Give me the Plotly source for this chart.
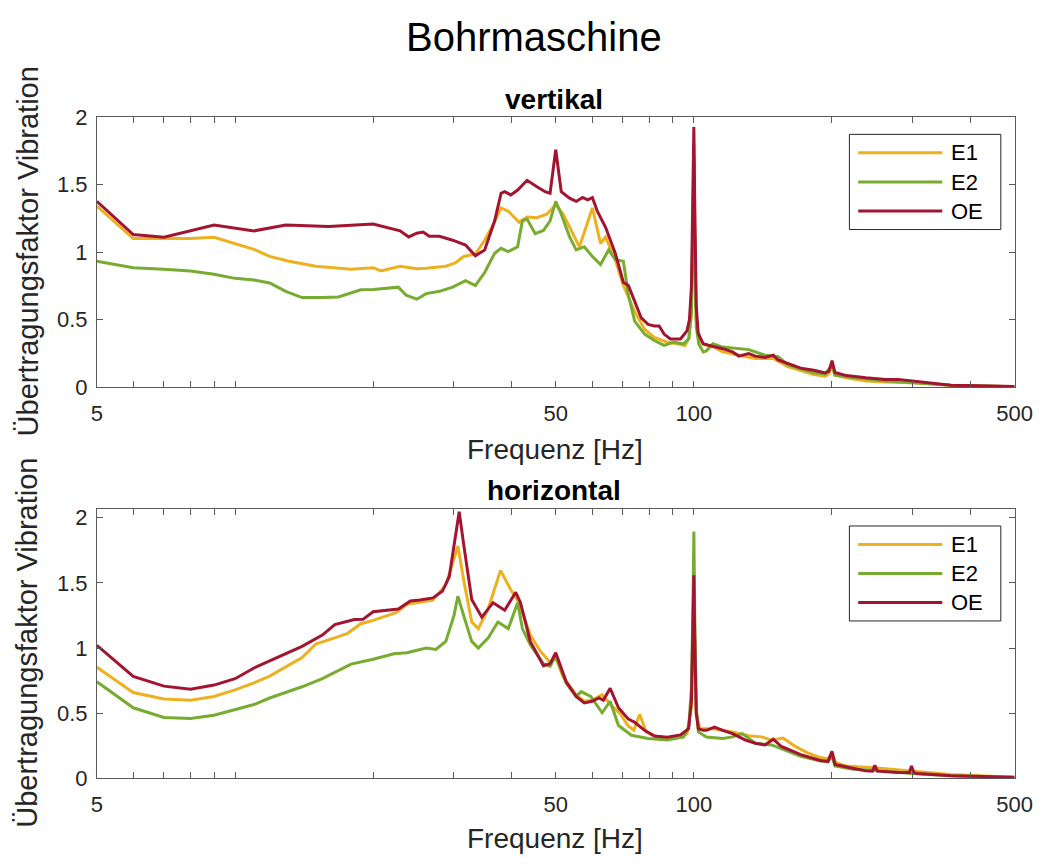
import plotly.graph_objects as go

# ---------------- data: vertikal ----------------
v_e1_f = [5, 6.0, 7.0, 8.0, 9.0, 10.0, 11.0, 11.9, 13.1, 15.0, 17.9, 20, 20.8, 22.9, 24.9, 26.1, 28.8, 30.2, 31.5,
          33.4, 35.0, 36.5, 38.0, 39.4, 41.6, 43.3, 45.5, 47.8, 50, 51.9, 54.5, 56.3, 58.2, 60.1, 62.6, 64.2, 67.4,
          70.2, 74.3, 78.1, 82.0, 87.5, 92, 95.7, 97.5, 98.8, 99.6, 100, 100.4, 101.2, 102.5, 104.8, 110, 115.6,
          125.4, 136.1, 148.9, 160.3, 182.6, 193.4, 197, 200, 203, 215, 237, 262, 298, 363, 500]
v_e1_y = [1.34, 1.10, 1.10, 1.10, 1.11, 1.064, 1.02, 0.968, 0.932, 0.896, 0.873, 0.885, 0.861, 0.896, 0.877, 0.88,
          0.896, 0.92, 0.968, 0.986, 1.088, 1.2, 1.327, 1.303, 1.22, 1.26, 1.255, 1.28, 1.35, 1.28, 1.136, 1.04,
          1.184, 1.327, 1.064, 1.112, 0.944, 0.753, 0.56, 0.43, 0.37, 0.334, 0.322, 0.31, 0.36, 0.55, 1.2, 1.80,
          1.2, 0.5, 0.36, 0.317, 0.30, 0.262, 0.238, 0.214, 0.214, 0.154, 0.095, 0.083, 0.1, 0.166, 0.09, 0.071,
          0.047, 0.039, 0.035, 0.016, 0.004]

v_e2_f = [5, 6.0, 7.0, 8.0, 9.0, 10.0, 11.0, 11.9, 12.9, 14.0, 15.5, 16.8, 18.8, 20, 22.7, 23.6, 24.9, 26.1, 27.9,
          29.8, 31.8, 33.4, 35.0, 36.8, 38.0, 39.4, 41.3, 42.3, 43.3, 45.1, 47.0, 48.6, 50, 51.4, 53.6, 55.4, 57.7,
          60.1, 62.6, 65.2, 67.4, 70.2, 72.0, 74.3, 78.1, 82.0, 86.1, 90.4, 95, 97.5, 98.8, 99.6, 100, 100.4, 101.2,
          102.5, 104.8, 106.5, 110, 115.6, 125.4, 131.7, 142.9, 152.6, 160.3, 182.6, 193.4, 200, 203, 215, 262,
          363, 500]
v_e2_y = [0.932, 0.885, 0.873, 0.861, 0.837, 0.806, 0.794, 0.772, 0.71, 0.664, 0.664, 0.669, 0.722, 0.724, 0.741,
          0.681, 0.652, 0.693, 0.71, 0.741, 0.789, 0.753, 0.849, 0.992, 1.028, 1.004, 1.04, 1.232, 1.244, 1.136,
          1.16, 1.232, 1.375, 1.28, 1.112, 1.016, 1.04, 0.968, 0.908, 1.016, 0.944, 0.932, 0.681, 0.49, 0.394,
          0.346, 0.31, 0.334, 0.322, 0.36, 0.55, 1.15, 1.70, 1.1, 0.45, 0.32, 0.262, 0.27, 0.322, 0.298, 0.286,
          0.279, 0.238, 0.226, 0.166, 0.107, 0.1, 0.166, 0.09, 0.078, 0.047, 0.016, 0.004]

v_oe_f = [5, 6.0, 7.0, 8.0, 9.0, 11.0, 12.9, 16, 20, 22.9, 23.9, 24.9, 25.7, 26.5, 27.9, 29.8, 31.8, 33.4, 35.0,
          36.8, 38.0, 38.7, 39.9, 41.3, 43.3, 45.5, 47.4, 48.6, 50, 51.4, 53.6, 55.4, 57.2, 58.7, 60.1, 61.6, 64.2,
          67.4, 70.2, 72.0, 74.3, 76.8, 79.5, 82.0, 84.0, 86.1, 88.9, 93.5, 96.6, 97.8, 98.8, 99.6, 100, 100.4,
          101.2, 102.2, 104.8, 110, 115.6, 121.4, 125.4, 131.7, 136.1, 142.9, 148.9, 152.6, 160.3, 171, 182.6,
          193.4, 197, 200, 203, 215, 237, 262, 279, 298, 329, 363, 414, 500]
v_oe_y = [1.375, 1.13, 1.11, 1.16, 1.20, 1.157, 1.2, 1.19, 1.208, 1.157, 1.112, 1.14, 1.148, 1.117, 1.117, 1.088,
          1.052, 0.973, 1.016, 1.232, 1.435, 1.447, 1.423, 1.459, 1.531, 1.483, 1.447, 1.435, 1.758, 1.447, 1.399,
          1.375, 1.404, 1.387, 1.404, 1.303, 1.184, 0.992, 0.777, 0.753, 0.633, 0.513, 0.466, 0.454, 0.454, 0.394,
          0.358, 0.358, 0.418, 0.5, 0.75, 1.4, 1.926, 1.4, 0.6, 0.40, 0.322, 0.303, 0.286, 0.262, 0.231, 0.25,
          0.231, 0.221, 0.238, 0.202, 0.174, 0.142, 0.126, 0.107, 0.12, 0.197, 0.11, 0.087, 0.071, 0.059, 0.059,
          0.047, 0.03, 0.016, 0.011, 0.006]

# ---------------- data: horizontal ----------------
h_e1_f = [5, 6.0, 7.0, 8.0, 9.0, 10.0, 11.0, 11.9, 14.0, 15.0, 16.8, 17.6, 18.8, 20, 22.5, 23.7, 27.0, 28.8, 30,
          30.6, 31.5, 32.8, 33.9, 35.6, 37.9, 39.9, 41.6, 44.0, 46.3, 48.6, 50, 51.9, 55.4, 57.7, 60, 63.1, 66.3,
          69, 72.0, 74, 76.2, 78.7, 83.3, 90.4, 96.6, 98.8, 99.6, 100, 100.4, 101.2, 103.1, 110, 121.4, 131.7,
          140.6, 147.7, 156.4, 165.6, 176, 188.7, 196, 200, 204, 215, 247, 298, 363, 500]
h_e1_y = [0.852, 0.659, 0.609, 0.599, 0.629, 0.679, 0.733, 0.785, 0.927, 1.031, 1.088, 1.113, 1.187, 1.212, 1.274,
          1.336, 1.368, 1.484, 1.683, 1.782, 1.522, 1.199, 1.149, 1.299, 1.596, 1.447, 1.348, 1.1, 0.976, 0.889,
          0.924, 0.778, 0.64, 0.592, 0.6, 0.642, 0.554, 0.5, 0.4, 0.37, 0.492, 0.357, 0.318, 0.311, 0.343, 0.55,
          1.1, 1.5, 1.05, 0.5, 0.381, 0.381, 0.357, 0.327, 0.319, 0.294, 0.31, 0.25, 0.2, 0.16, 0.15, 0.195, 0.12,
          0.095, 0.083, 0.058, 0.03, 0.009]

h_e2_f = [5, 6.0, 7.0, 8.0, 9.0, 10.0, 11.0, 11.9, 14.0, 15.5, 17.9, 20, 22.2, 23.7, 26.1, 27.4, 28.8, 30, 30.6,
          31.5, 32.8, 33.9, 35.6, 37.4, 39.4, 41.3, 42.3, 44.0, 47.0, 48.6, 50, 51.0, 52.7, 55.4, 56.8, 59.6, 63.1,
          65.7, 68.5, 73.1, 79.5, 87.5, 95, 97.5, 98.8, 99.6, 100, 100.4, 101.2, 102.3, 106.5, 115.6, 121.4, 127.5,
          136.1, 147.7, 155.1, 171, 188.7, 196, 200, 203, 222, 247, 298, 363, 500]
h_e2_y = [0.741, 0.542, 0.468, 0.46, 0.485, 0.525, 0.567, 0.617, 0.703, 0.765, 0.877, 0.914, 0.956, 0.964, 1.0,
          0.99, 1.051, 1.249, 1.398, 1.249, 1.051, 1.0, 1.076, 1.2, 1.149, 1.348, 1.149, 1.026, 0.88, 0.86, 0.94,
          0.86, 0.73, 0.629, 0.666, 0.629, 0.504, 0.592, 0.406, 0.331, 0.306, 0.294, 0.318, 0.4, 0.7, 1.4, 1.894,
          1.3, 0.55, 0.357, 0.318, 0.307, 0.319, 0.344, 0.27, 0.257, 0.23, 0.17, 0.133, 0.13, 0.17, 0.095, 0.071,
          0.063, 0.038, 0.02, 0.004]

h_oe_f = [5, 6.0, 7.0, 8.0, 9.0, 10.0, 11.0, 11.9, 13.1, 14.0, 15.5, 16.5, 18.2, 19.0, 20, 22.7, 24.1, 25.3, 27.0,
          28.3, 29.3, 30, 30.8, 31.5, 32.8, 34.5, 36.5, 38.7, 40.9, 41.9, 44.0, 47.0, 48.6, 50, 51.0, 52.7, 55.4,
          57.7, 60, 62.1, 63.5, 65.7, 68.5, 72.0, 74.3, 78.1, 82.0, 87.5, 93.5, 97.4, 98.8, 99.6, 100, 100.4, 101.2,
          102.3, 104.8, 106.5, 110.9, 115.6, 121.4, 129.6, 136.1, 142.9, 148.9, 155.1, 171, 188.7, 196, 200, 203,
          222, 237, 245, 248, 251, 257.5, 279, 295, 298, 302, 308, 363, 500]
h_oe_y = [1.021, 0.783, 0.708, 0.684, 0.716, 0.765, 0.847, 0.902, 0.964, 1.013, 1.1, 1.18, 1.219, 1.22, 1.279,
          1.299, 1.361, 1.368, 1.385, 1.435, 1.547, 1.795, 2.045, 1.795, 1.373, 1.237, 1.348, 1.29, 1.428, 1.348,
          1.051, 0.865, 0.88, 0.964, 0.877, 0.741, 0.629, 0.579, 0.592, 0.617, 0.6, 0.691, 0.542, 0.455, 0.431,
          0.369, 0.326, 0.316, 0.334, 0.381, 0.6, 1.1, 1.559, 1.1, 0.5, 0.381, 0.369, 0.369, 0.394, 0.369, 0.344,
          0.294, 0.27, 0.257, 0.301, 0.245, 0.183, 0.138, 0.13, 0.208, 0.108, 0.078, 0.058, 0.056, 0.1, 0.056,
          0.053, 0.045, 0.045, 0.095, 0.042, 0.038, 0.021, 0.009]

series_names = ["E1", "E2", "OE"]
colors = ["#EDB120", "#77AC30", "#A2142F"]

x_tickvals = [5, 6, 7, 8, 9, 10, 20, 30, 40, 50, 60, 70, 80, 90, 100, 200, 300, 400, 500]
x_ticklabels = ["5", "", "", "", "", "", "", "", "", "50", "", "", "", "", "100", "", "", "", "500"]
y_tickvals = [0, 0.5, 1, 1.5, 2]
y_ticklabels = ["0", "0.5", "1", "1.5", "2"]

FONT = "Liberation Sans, Arial, Helvetica, sans-serif"
AX = "#5a5a5a"
TXT = "#262626"

fig = go.Figure()
top = [(v_e1_f, v_e1_y), (v_e2_f, v_e2_y), (v_oe_f, v_oe_y)]
bot = [(h_e1_f, h_e1_y), (h_e2_f, h_e2_y), (h_oe_f, h_oe_y)]
for (f, y), name, c in zip(top, series_names, colors):
    fig.add_trace(go.Scatter(x=f, y=y, name=name, mode="lines", line=dict(color=c, width=3),
                             xaxis="x", yaxis="y", showlegend=False))
for (f, y), name, c in zip(bot, series_names, colors):
    fig.add_trace(go.Scatter(x=f, y=y, name=name, mode="lines", line=dict(color=c, width=3),
                             xaxis="x2", yaxis="y2", showlegend=False))

W, H = 1058, 867
xdom = [93 / W, 1032 / W]
ydom_top = [1 - 386.5 / H, 1 - 108 / H]
ydom_bot = [1 - 789.2 / H, 1 - 511.3 / H]

def xaxis(anchor):
    return dict(type="log", range=[0.69897, 2.69897], domain=xdom, anchor=anchor,
                tickmode="array", tickvals=x_tickvals, ticktext=x_ticklabels,
                ticks="inside", ticklen=6, tickcolor=AX, tickwidth=1,
                showline=True, linecolor=AX, linewidth=1, mirror="ticks",
                showgrid=False, zeroline=False, ticklabelstandoff=6,
                tickfont=dict(family=FONT, size=22, color=TXT))

def yaxis(anchor, dom, rng):
    return dict(range=rng, domain=dom, anchor=anchor,
                tickmode="array", tickvals=y_tickvals, ticktext=y_ticklabels,
                ticks="inside", ticklen=6, tickcolor=AX, tickwidth=1,
                showline=True, linecolor=AX, linewidth=1, mirror="ticks",
                showgrid=False, zeroline=False, ticklabelstandoff=4,
                tickfont=dict(family=FONT, size=22, color=TXT))

annotations = [
    dict(text="Bohrmaschine", x=540 / W, y=1 - 26 / H, xref="paper", yref="paper", showarrow=False,
         xanchor="center", yanchor="middle", font=dict(family=FONT, size=40, color="black")),
    dict(text="<b>vertikal</b>", x=561 / W, y=1 - 90 / H, xref="paper", yref="paper", showarrow=False,
         xanchor="center", yanchor="middle", font=dict(family=FONT, size=28, color="black")),
    dict(text="<b>horizontal</b>", x=561 / W, y=1 - 493 / H, xref="paper", yref="paper", showarrow=False,
         xanchor="center", yanchor="middle", font=dict(family=FONT, size=28, color="black")),
]
for yc in (247, 650):
    annotations.append(dict(text="Übertragungsfaktor Vibration", x=22 / W, y=1 - yc / H, xref="paper",
                            yref="paper", showarrow=False, textangle=-90, xanchor="center", yanchor="middle",
                            font=dict(family=FONT, size=29, color=TXT)))
for yc in (450, 851):
    annotations.append(dict(text="Frequenz [Hz]", x=562 / W, y=1 - yc / H, xref="paper", yref="paper",
                            showarrow=False, xanchor="center", yanchor="middle",
                            font=dict(family=FONT, size=28, color=TXT)))

shapes = []
legend_rows = [0.867, 0.759, 0.652]
for xr, yr in (("x domain", "y domain"), ("x2 domain", "y2 domain")):
    shapes.append(dict(type="rect", xref=xr, yref=yr, x0=0.820, x1=0.985, y0=0.5835, y1=0.9354,
                       line=dict(color=TXT, width=1), fillcolor="white", layer="above"))
    for name, c, ry in zip(series_names, colors, legend_rows):
        shapes.append(dict(type="line", xref=xr, yref=yr, x0=0.8296, x1=0.9212, y0=ry, y1=ry,
                           line=dict(color=c, width=3), layer="above"))
        annotations.append(dict(text=name, xref=xr, yref=yr, x=0.9286, y=ry, showarrow=False,
                                xanchor="left", yanchor="middle",
                                font=dict(family=FONT, size=22, color="black")))

fig.update_layout(
    width=W, height=H, margin=dict(l=0, r=0, t=0, b=0),
    paper_bgcolor="white", plot_bgcolor="white",
    xaxis=xaxis("y"), yaxis=yaxis("x", ydom_top, [0, 2]),
    xaxis2=xaxis("y2"), yaxis2=yaxis("x2", ydom_bot, [0, 2.07]),
    annotations=annotations, shapes=shapes, showlegend=False,
)

fig.write_html("out.html")
